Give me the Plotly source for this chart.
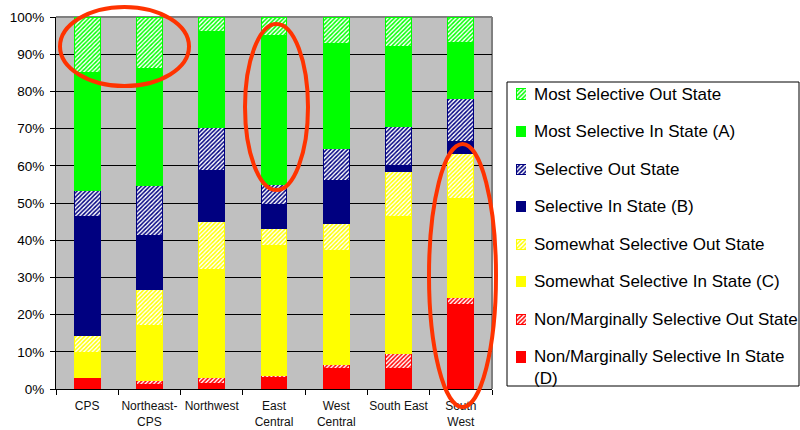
import plotly.graph_objects as go

# Regions on the x axis
categories = ["CPS", "Northeast-<br>CPS", "Northwest", "East<br>Central",
              "West<br>Central", "South East", "South<br>West"]

# Share of students (%) in each selectivity band, stacked bottom to top
nonmarg_in = [2.7, 1.3, 1.6, 3.1, 5.45, 5.4, 22.6]
nonmarg_out = [0.5, 0.9, 1.4, 0.6, 1.25, 4.2, 2.1]
somewhat_in = [6.55, 14.8, 29.0, 34.9, 30.4, 36.7, 26.4]
somewhat_out = [4.55, 9.7, 13.0, 4.6, 7.4, 12.1, 12.3]
selective_in = [32.1, 14.5, 13.8, 6.4, 11.5, 1.8, 3.0]
selective_out = [6.9, 13.4, 11.5, 5.5, 8.6, 10.4, 11.7]
most_in = [31.7, 31.6, 25.9, 39.8, 28.2, 21.6, 15.0]
most_out = [15.0, 13.8, 3.8, 5.1, 7.2, 7.8, 6.9]

y_ticks = [0, 10, 20, 30, 40, 50, 60, 70, 80, 90, 100]
y_tick_labels = [f"{v}%" for v in y_ticks]

GREEN, NAVY, YELLOW, RED = "#00FF00", "#000080", "#FFFF00", "#FF0000"
FONT = "Arial, Liberation Sans, sans-serif"

series = [
    ("Non/Marginally Selective In State<br>(D)", nonmarg_in, RED, False),
    ("Non/Marginally Selective Out State", nonmarg_out, RED, True),
    ("Somewhat Selective In State (C)", somewhat_in, YELLOW, False),
    ("Somewhat Selective Out State", somewhat_out, YELLOW, True),
    ("Selective In State (B)", selective_in, NAVY, False),
    ("Selective Out State", selective_out, NAVY, True),
    ("Most Selective In State (A)", most_in, GREEN, False),
    ("Most Selective Out State", most_out, GREEN, True),
]

# Page geometry (pixels) -> paper coordinates
L, T, B, W = 56, 17, 389, 800
PW, PH = W - L, B - T


def px(xp):
    return (xp - L) / PW


def py(yp):
    return (B - yp) / PH


def marker_for(color, hatched):
    m = dict(color=color if not hatched else "white",
             line=dict(color=color, width=1))
    if hatched:
        m["pattern"] = dict(shape="/", fgcolor=color, bgcolor="white",
                            size=3, solidity=0.5, fillmode="replace")
    return m


fig = go.Figure()
for name, vals, color, hatched in series:
    fig.add_trace(go.Bar(x=categories, y=vals, name=name, showlegend=False,
                         marker=marker_for(color, hatched)))

# Legend swatches (top entry first)
legend_order = list(reversed(series))
for i, (name, vals, color, hatched) in enumerate(legend_order):
    fig.add_trace(go.Bar(x=[1], y=[i], orientation="h", width=0.27,
                         xaxis="x2", yaxis="y2", showlegend=False,
                         hoverinfo="skip", marker=marker_for(color, hatched)))

item_top, item_step = 94, 37.57
annotations = []
for i, (name, *_rest) in enumerate(legend_order):
    yc = item_top + i * item_step
    if "<br>" in name:
        annotations.append(dict(x=px(532), y=py(yc - 12), xref="paper", yref="paper",
                                text=name, showarrow=False, xanchor="left",
                                yanchor="top", align="left",
                                font=dict(size=17, color="black", family=FONT)))
    else:
        annotations.append(dict(x=px(532), y=py(yc), xref="paper", yref="paper",
                                text=name, showarrow=False, xanchor="left",
                                yanchor="middle", align="left",
                                font=dict(size=17, color="black", family=FONT)))

plot_right = px(492)
shapes = [
    # plot area background (beneath the grid)
    dict(type="rect", xref="paper", yref="paper", x0=0, x1=plot_right, y0=0, y1=1,
         fillcolor="#C0C0C0", line=dict(width=0), layer="below"),
    # plot frame (top and right)
    dict(type="line", xref="paper", yref="paper", x0=0, x1=plot_right, y0=1, y1=1,
         line=dict(color="#808080", width=2), layer="below"),
    dict(type="line", xref="paper", yref="paper", x0=plot_right, x1=plot_right, y0=0, y1=1,
         line=dict(color="#808080", width=2), layer="below"),
    # legend box
    dict(type="rect", xref="paper", yref="paper", x0=px(507), x1=px(799),
         y0=py(386), y1=py(82), line=dict(color="black", width=1)),
    # highlight ellipses
    dict(type="circle", xref="paper", yref="paper", x0=px(60), x1=px(189),
         y0=py(86), y1=py(7), line=dict(color="#FF3300", width=4)),
    dict(type="circle", xref="paper", yref="paper", x0=px(245), x1=px(308),
         y0=py(190), y1=py(24), line=dict(color="#FF3300", width=4)),
    dict(type="circle", xref="paper", yref="paper", x0=px(429), x1=px(496),
         y0=py(407), y1=py(144), line=dict(color="#FF3300", width=4)),
]

fig.update_layout(
    width=800, height=430,
    margin=dict(l=L, r=0, t=T, b=430 - B, pad=0),
    barmode="stack", bargap=0.583,
    paper_bgcolor="white", plot_bgcolor="rgba(0,0,0,0)",
    font=dict(family=FONT, color="black"),
    xaxis=dict(domain=[0, plot_right], showgrid=False, showline=True,
               linecolor="black", linewidth=1, ticks="outside",
               tickson="boundaries", ticklen=5, tickcolor="black",
               tickangle=0, automargin=False, ticklabelstandoff=6,
               tickfont=dict(size=12, color="#111111")),
    yaxis=dict(range=[0, 100], tickmode="array", tickvals=y_ticks,
               ticktext=y_tick_labels,
               showgrid=True, gridcolor="black", gridwidth=1,
               zeroline=False, showline=True, linecolor="black", linewidth=1,
               ticks="outside", ticklen=5, tickcolor="black", automargin=False,
               ticklabelstandoff=3,
               tickfont=dict(size=13.5, color="black")),
    xaxis2=dict(domain=[px(516), px(526)], range=[0, 1], anchor="y2",
                visible=False, fixedrange=True),
    yaxis2=dict(domain=[py(item_top + 7.5 * item_step), py(item_top - 0.5 * item_step)],
                range=[7.5, -0.5], anchor="x2", visible=False, fixedrange=True),
    shapes=shapes,
    annotations=annotations,
    showlegend=False,
)

fig.write_html("out.html")
